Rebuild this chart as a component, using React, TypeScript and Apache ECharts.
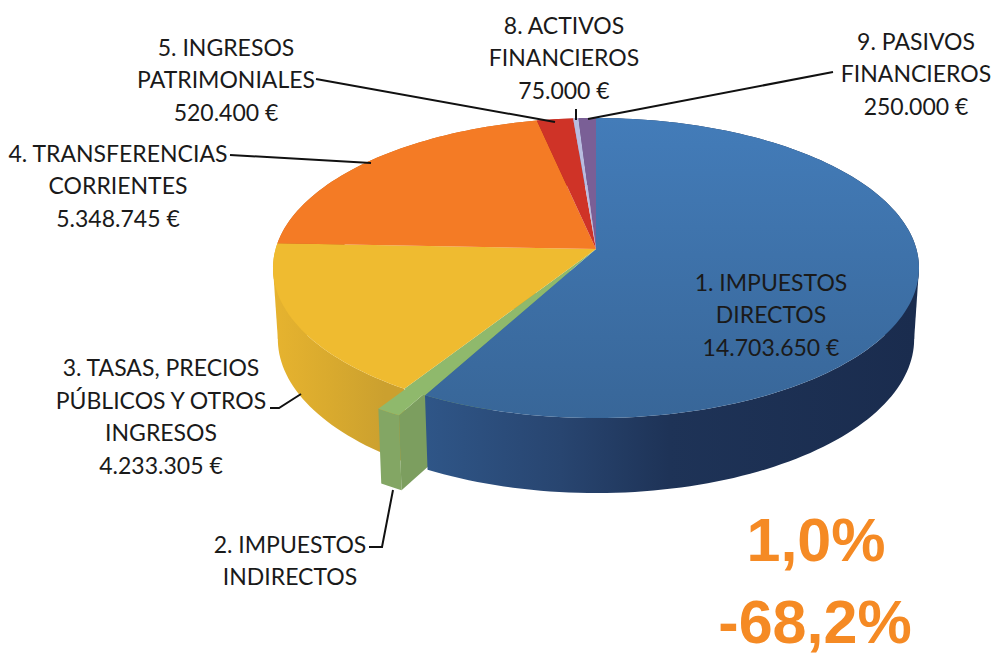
import React, { useEffect, useRef } from "react";
import * as echarts from "echarts";

const categories = [
  "1. IMPUESTOS DIRECTOS",
  "2. IMPUESTOS INDIRECTOS",
  "3. TASAS, PRECIOS PÚBLICOS Y OTROS INGRESOS",
  "4. TRANSFERENCIAS CORRIENTES",
  "5. INGRESOS PATRIMONIALES",
  "8. ACTIVOS FINANCIEROS",
  "9. PASIVOS FINANCIEROS",
];
const values = [14703650, 280000, 4233305, 5348745, 520400, 75000, 250000];
const labelTexts = [
  "1. IMPUESTOS\nDIRECTOS\n14.703.650 €",
  "2. IMPUESTOS\nINDIRECTOS",
  "3. TASAS, PRECIOS\nPÚBLICOS Y OTROS\nINGRESOS\n4.233.305 €",
  "4. TRANSFERENCIAS\nCORRIENTES\n5.348.745 €",
  "5. INGRESOS\nPATRIMONIALES\n520.400 €",
  "8. ACTIVOS\nFINANCIEROS\n75.000 €",
  "9. PASIVOS\nFINANCIEROS\n250.000 €",
];
const bigTexts = ["1,0%", "-68,2%"];

const labelPos = [
  [771, 314],
  [290, 560],
  [161, 416],
  [118, 185],
  [226, 79],
  [564, 57],
  [916, 73],
];
const bigPos = [
  [816, 540],
  [815, 622],
];
const leaders = [
  [[316, 79], [555, 122]],
  [[230, 155], [371, 163]],
  [[576, 109], [576, 120]],
  [[833, 72], [588, 119]],
  [[270, 408], [279, 408], [301, 394]],
  [[369, 547], [382, 547], [393, 490]],
];

const topColors = ["", "#8fb96c", "#efbb30", "#f47b25", "#cf3327", "#b9bcdf", "#7a5f96"];
const wallColors = ["", "#83a664", "", "#c9691f", "#a92a20", "#9a9cc0", "#5f4a78"];

const APEX_X = 596;
const APEX_Y = 249;
const SX = 320.4;
const SY = 147.6;
const K = 0.1268;
const EXPLODE = [-26, 20];
const EXPLODED_INDEX = 1;
const TANGENT_RIGHT = (Math.acos(-K) * 180) / Math.PI;
const TANGENT_LEFT = 360 - TANGENT_RIGHT;

function project(deg: number, dx = 0, dy = 0) {
  const t = (deg * Math.PI) / 180;
  const w = 1 + K * Math.cos(t);
  return [
    APEX_X + (SX * Math.sin(t)) / w + dx,
    APEX_Y - (SY * Math.cos(t)) / w + dy,
  ];
}
function lower(p: number[], dx = 0) {
  const h = 71 + (4 * (p[1] - 268)) / 150;
  return [APEX_X + dx + (p[0] - APEX_X - dx) * 0.985, p[1] + h];
}
function rim(a0: number, a1: number, dx = 0, dy = 0) {
  const pts: number[][] = [];
  const n = Math.max(2, Math.ceil((a1 - a0) / 1.5));
  for (let i = 0; i <= n; i++) pts.push(project(a0 + ((a1 - a0) * i) / n, dx, dy));
  return pts;
}

const total = values.reduce((s, v) => s + v, 0);
const starts: number[] = [];
values.reduce((s, v, i) => {
  starts[i] = (s / total) * 360;
  return s + v;
}, 0);

const lg = (x0: number, y0: number, x1: number, y1: number, stops: [number, string][]) =>
  new echarts.graphic.LinearGradient(
    x0, y0, x1, y1,
    stops.map(([offset, color]) => ({ offset, color })),
    true
  );

function renderSlice(params: any, api: any) {
  const i = params.dataIndex;
  const a0 = starts[i];
  const a1 = a0 + (api.value(0) / total) * 360;
  const ex = i === EXPLODED_INDEX;
  const dx = ex ? EXPLODE[0] : 0;
  const dy = ex ? EXPLODE[1] : 0;
  const top = rim(a0, a1, dx, dy);
  const bottom = top.map((p) => lower(p, dx)).reverse();
  const apex = [APEX_X + dx, APEX_Y + dy];

  let wallFill: any = wallColors[i];
  if (i === 0)
    wallFill = lg(423, 0, 915, 0, [
      [0, "#2f5688"],
      [0.28, "#284570"],
      [0.5, "#1e3357"],
      [1, "#1a2c4e"],
    ]);
  if (i === 2)
    wallFill = lg(275, 0, 385, 0, [
      [0, "#e6b32f"],
      [0.5, "#d9aa2e"],
      [1, "#cba02f"],
    ]);
  const topFill =
    i === 0
      ? lg(640, 118, 640, 420, [
          [0, "#437cb9"],
          [1, "#386698"],
        ])
      : topColors[i];

  const wallZ = i === 0 ? 3 : ex ? 2 : i === 2 ? 1 : 0;
  const children: any[] = [
    {
      type: "polygon",
      z2: wallZ,
      shape: { points: top.concat(bottom) },
      style: { fill: wallFill },
    },
  ];
  // silhouette of the cylinder between the upper and the lower rim
  [TANGENT_RIGHT, TANGENT_LEFT].forEach((a) => {
    if (a > a0 && a < a1) {
      const p = project(a);
      children.push({
        type: "polygon",
        z2: wallZ,
        shape: { points: [p, lower(p), [APEX_X, APEX_Y + 50]] },
        style: { fill: wallFill },
      });
    }
  });
  if (ex) {
    const corner = top[0];
    children.push({
      type: "polygon",
      z2: wallZ,
      shape: { points: [corner, apex, lower(apex, dx), lower(corner, dx)] },
      style: { fill: "#7c9e5f" },
    });
    // the wedge left behind by the pulled-out slice
    children.push({
      type: "polygon",
      z2: 10,
      shape: { points: [[APEX_X, APEX_Y]].concat(rim(a0, a1)) },
      style: { fill: topColors[i] },
    });
  }
  children.push({
    type: "polygon",
    z2: ex ? 20 : 10,
    shape: { points: [apex].concat(top) },
    style: { fill: topFill },
  });
  return { type: "group", children };
}

export default function App() {
  const ref = useRef<HTMLDivElement>(null);
  useEffect(() => {
    const chart = echarts.init(ref.current!, undefined, { renderer: "svg" });
    const textFont = { fontFamily: "Lato", fontSize: 23, fill: "#1a1a1a", lineHeight: 32.5 };
    chart.setOption({
      animation: false,
      backgroundColor: "#ffffff",
      series: [
        {
          type: "custom",
          coordinateSystem: "none",
          silent: true,
          renderItem: renderSlice,
          data: values.map((v, i) => ({ name: categories[i], value: [v] })),
        },
      ],
      graphic: {
        elements: [
          ...leaders.map((pts) => ({
            type: "polyline",
            silent: true,
            z: 20,
            shape: { points: pts },
            style: { stroke: "#111111", lineWidth: 2, fill: "none" },
          })),
          ...labelTexts.map((t, i) => ({
            type: "text",
            silent: true,
            z: 21,
            x: labelPos[i][0],
            y: labelPos[i][1],
            style: { ...textFont, text: t, align: "center", verticalAlign: "middle" },
          })),
          ...bigTexts.map((t, i) => ({
            type: "text",
            silent: true,
            z: 21,
            x: bigPos[i][0],
            y: bigPos[i][1],
            style: {
              text: t,
              fontFamily: "Liberation Sans",
              fontWeight: "bold",
              fontSize: 61,
              fill: "#f58a24",
              align: "center",
              verticalAlign: "middle",
            },
          })),
        ],
      },
    });
    return () => chart.dispose();
  }, []);
  return (
    <div
      ref={ref}
      style={{ position: "absolute", left: 0, top: 0, width: 993, height: 654 }}
    />
  );
}
